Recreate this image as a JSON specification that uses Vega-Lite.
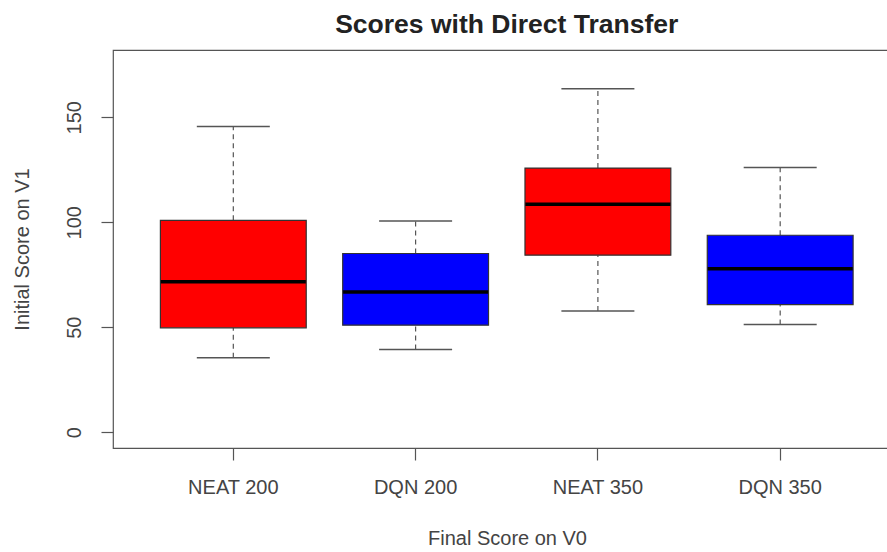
{
  "$schema": "https://vega.github.io/schema/vega-lite/v6.json",
  "autosize": {"type": "none"},
  "padding": {"left": 113, "top": 50, "right": 0, "bottom": 104},
  "width": 787.5,
  "height": 398,
  "background": "white",
  "config": {
    "font": "Liberation Sans",
    "view": {"stroke": "#555", "strokeWidth": 1.2}
  },
  "title": {
    "text": "Scores with Direct Transfer",
    "fontSize": 26.5,
    "fontWeight": "bold",
    "color": "#222",
    "anchor": "middle",
    "frame": "group",
    "baseline": "alphabetic",
    "offset": 16,
    "dy": 25
  },
  "data": {
    "values": [
      {"group": "NEAT 200", "algo": "NEAT", "lower": 35.5, "q1": 49.7, "median": 71.6, "q3": 100.9, "upper": 145.6},
      {"group": "DQN 200", "algo": "DQN", "lower": 39.4, "q1": 51.0, "median": 66.8, "q3": 85.1, "upper": 100.6},
      {"group": "NEAT 350", "algo": "NEAT", "lower": 57.7, "q1": 84.3, "median": 108.5, "q3": 125.8, "upper": 163.5},
      {"group": "DQN 350", "algo": "DQN", "lower": 51.3, "q1": 60.8, "median": 77.8, "q3": 93.8, "upper": 126.1}
    ]
  },
  "encoding": {
    "x": {
      "field": "group",
      "type": "nominal",
      "sort": ["NEAT 200", "DQN 200", "NEAT 350", "DQN 350"],
      "scale": {"paddingInner": 0, "paddingOuter": 0.16},
      "axis": {
        "title": "Final Score on V0",
        "titleFontSize": 20,
        "titleFontWeight": "normal",
        "titleColor": "#444",
        "titleX": 394,
        "titleY": 90,
        "titleBaseline": "middle",
        "titleAnchor": "middle",
        "labelAngle": 0,
        "labelFontSize": 20,
        "labelColor": "#444",
        "labelBaseline": "middle",
        "labelPadding": 27,
        "tickSize": 12,
        "tickColor": "#555",
        "tickWidth": 1.2,
        "domain": false,
        "grid": false
      }
    }
  },
  "layer": [
    {
      "mark": {"type": "rule", "strokeDash": [5, 4], "color": "#555", "strokeWidth": 1.2},
      "encoding": {
        "y": {
          "field": "q3",
          "type": "quantitative",
          "scale": {"domain": [-7.5, 182], "nice": false, "zero": false},
          "axis": {
            "title": "Initial Score on V1",
            "titleFontSize": 20,
            "titleFontWeight": "normal",
            "titleColor": "#444",
            "titleAngle": -90,
            "titleX": -91,
            "titleY": 199,
            "titleAlign": "center",
            "titleBaseline": "middle",
            "values": [0, 50, 100, 150],
            "labelAngle": -90,
            "labelAlign": "center",
            "labelBaseline": "middle",
            "labelFontSize": 20,
            "labelColor": "#444",
            "labelPadding": 26.5,
            "tickSize": 12,
            "tickColor": "#555",
            "tickWidth": 1.2,
            "domain": false,
            "grid": false
          }
        },
        "y2": {"field": "upper"}
      }
    },
    {
      "mark": {"type": "rule", "strokeDash": [5, 4], "color": "#555", "strokeWidth": 1.2},
      "encoding": {
        "y": {"field": "lower", "type": "quantitative"},
        "y2": {"field": "q1"}
      }
    },
    {
      "mark": {"type": "tick", "size": 73, "thickness": 1.5, "color": "#555", "opacity": 1},
      "encoding": {"y": {"field": "upper", "type": "quantitative"}}
    },
    {
      "mark": {"type": "tick", "size": 73, "thickness": 1.5, "color": "#555", "opacity": 1},
      "encoding": {"y": {"field": "lower", "type": "quantitative"}}
    },
    {
      "mark": {"type": "bar", "width": {"band": 0.8}, "stroke": "#333", "strokeWidth": 1.2},
      "encoding": {
        "y": {"field": "q1", "type": "quantitative"},
        "y2": {"field": "q3"},
        "color": {
          "field": "algo",
          "type": "nominal",
          "scale": {"domain": ["NEAT", "DQN"], "range": ["#ff0000", "#0000ff"]},
          "legend": null
        },
        "opacity": {"value": 1}
      }
    },
    {
      "mark": {"type": "tick", "size": 145, "thickness": 3.5, "color": "#000", "opacity": 1},
      "encoding": {"y": {"field": "median", "type": "quantitative"}}
    }
  ]
}
